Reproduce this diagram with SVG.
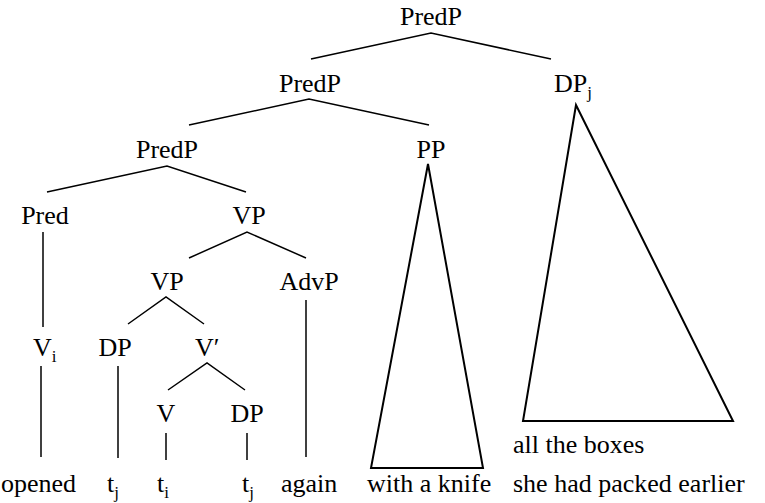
<svg xmlns="http://www.w3.org/2000/svg" width="765" height="503" viewBox="0 0 765 503">
  <style>
    .lbl { font-family: 'Liberation Serif', 'Times New Roman', Times, serif; font-size: 26px; fill: #000; }
    .c { text-anchor: middle; }
    .sub { font-size: 17px; }
    .edge { stroke: #000; stroke-width: 1.5; fill: none; stroke-linecap: butt; }
    .tri { stroke: #000; stroke-width: 2; fill: none; stroke-linejoin: miter; }
  </style>
  <rect width="765" height="503" fill="#fff"/>

  <g id="connectors">
    <!-- PredP (root) -->
    <polyline class="edge" points="311,59 431,33 551,59"/>
    <!-- PredP (middle) -->
    <polyline class="edge" points="189,125 309,99 429,125"/>
    <!-- PredP (lower) -->
    <polyline class="edge" points="47,192 167,166 246,192"/>
    <!-- Pred to V -->
    <line class="edge" x1="43" y1="232" x2="43" y2="327"/>
    <!-- VP upper -->
    <polyline class="edge" points="189,258 247,232 306,258"/>
    <!-- VP lower -->
    <polyline class="edge" points="128,324 166,297 204,324"/>
    <!-- AdvP to again -->
    <line class="edge" x1="306" y1="300" x2="306" y2="457"/>
    <!-- V' -->
    <polyline class="edge" points="168,390 207,363 245,390"/>
    <!-- V_i to opened -->
    <line class="edge" x1="41" y1="366" x2="41" y2="457" stroke-width="2"/>
    <!-- DP to t_j -->
    <line class="edge" x1="118" y1="366" x2="118" y2="458"/>
    <!-- V to t_i -->
    <line class="edge" x1="166" y1="433" x2="166" y2="460"/>
    <!-- DP to t_j -->
    <line class="edge" x1="247" y1="433" x2="247" y2="460"/>
    <!-- PP triangle -->
    <polygon class="tri" points="428,164 371,468 483,468"/>
    <!-- DP_j triangle -->
    <polygon class="tri" points="576,105 523,421 733,421"/>
  </g>

  <g class="lbl" font-family="Liberation Serif, serif">
    <g id="predp-root"><text class="c" x="431" y="25">PredP</text></g>
    <g id="predp-mid"><text class="c" x="310" y="92">PredP</text></g>
    <g id="dp-j"><text x="554" y="92">DP<tspan class="sub" dy="6">j</tspan></text></g>
    <g id="predp-low"><text class="c" x="167" y="158">PredP</text></g>
    <g id="pp"><text class="c" x="431" y="158">PP</text></g>
    <g id="pred"><text class="c" x="45" y="224">Pred</text></g>
    <g id="vp-upper"><text class="c" x="249" y="224">VP</text></g>
    <g id="vp-lower"><text class="c" x="167" y="290">VP</text></g>
    <g id="advp"><text class="c" x="309" y="290">AdvP</text></g>
    <g id="v-i"><text x="33" y="356">V<tspan class="sub" dy="6">i</tspan></text></g>
    <g id="dp"><text class="c" x="115" y="356">DP</text></g>
    <g id="v-bar"><text x="195" y="356">V′</text></g>
    <g id="v"><text class="c" x="166" y="422">V</text></g>
    <g id="dp-obj"><text class="c" x="247" y="422">DP</text></g>

    <g id="words">
      <text x="1" y="492">opened</text>
      <text x="107" y="492">t<tspan class="sub" dy="6">j</tspan></text>
      <text x="157" y="492">t<tspan class="sub" dy="6">i</tspan></text>
      <text x="242" y="492">t<tspan class="sub" dy="6">j</tspan></text>
      <text x="281" y="492">again</text>
      <text x="367" y="492">with a knife</text>
      <text x="513" y="453">all the boxes</text>
      <text x="513" y="492">she had packed earlier</text>
    </g>
  </g>
</svg>
